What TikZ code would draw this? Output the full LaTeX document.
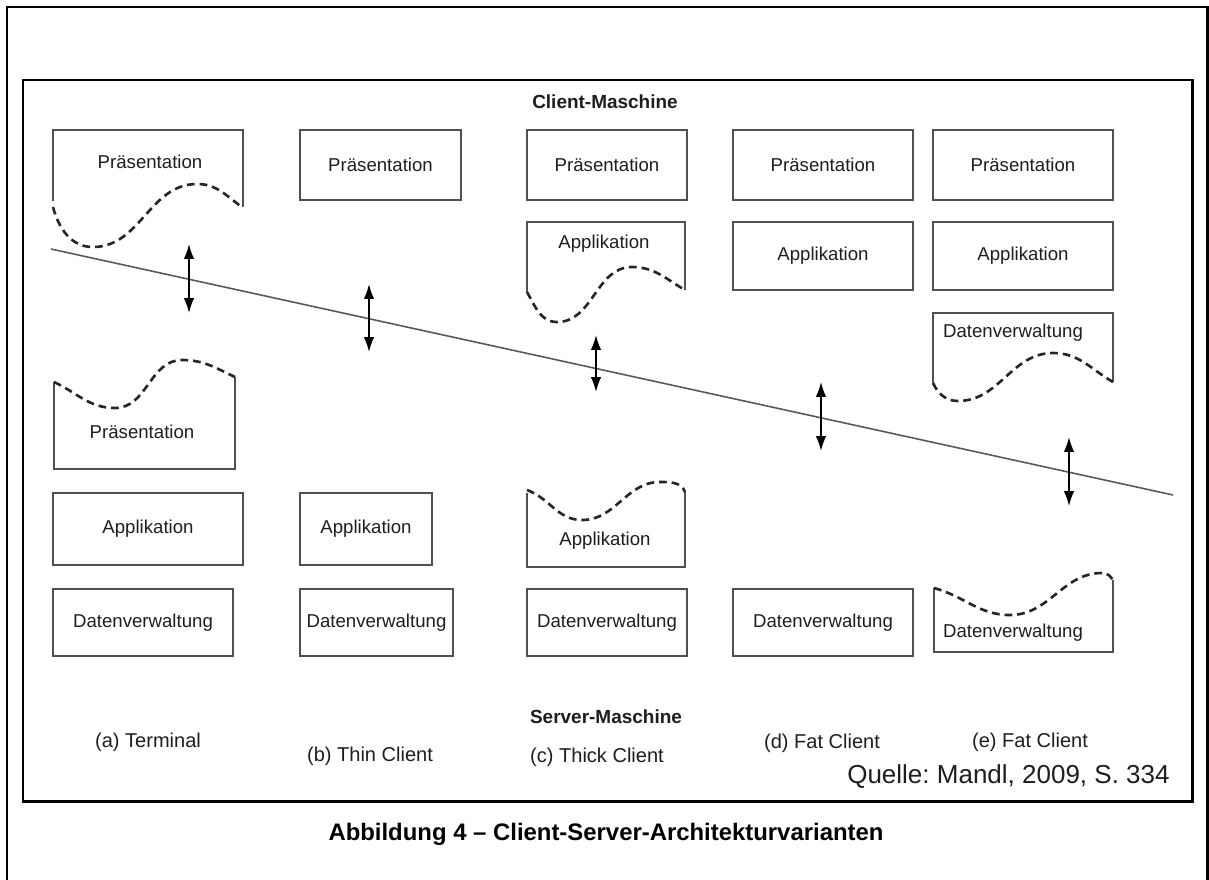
\documentclass[tikz,border=0pt]{standalone}
\usepackage{fontspec}
\setmainfont{Liberation Sans}
\usetikzlibrary{arrows.meta}
\frenchspacing
\definecolor{ink}{HTML}{1E1E1E}
\definecolor{edge}{HTML}{505050}
\tikzset{
  frame/.style={line width=1.7pt, black},
  boxline/.style={line width=0.75pt, edge},
  box/.style={boxline, draw, rectangle, inner sep=0pt, text=ink, font=\fontsize{10.6}{12}\selectfont},
  lbl/.style={text=ink, inner sep=0pt, font=\fontsize{10.6}{12}\selectfont},
  wave/.style={line width=1.5pt, black!85, dash pattern=on 4.4pt off 2.8pt},
  split/.style={line width=0.9pt, black!65},
  link/.style={line width=1pt, black, {Latex[length=8.5pt,width=6pt]}-{Latex[length=8.5pt,width=6pt]}},
  caption/.style={text=ink, inner sep=0pt, font=\fontsize{11.4}{13}\selectfont},
  head/.style={text=ink, inner sep=0pt, font=\bfseries\fontsize{10.8}{13}\selectfont}
}
\begin{document}
\begin{tikzpicture}[x=0.02cm,y=-0.02cm]
\useasboundingbox (0,0) rectangle (1209,879);
\fill[white] (0,0) rectangle (1209,879);
\begin{scope}
\clip (0,0) rectangle (1209,879);
% outer and inner frames
\draw[frame] (7,900) -- (7,7) -- (1207,7) -- (1207,900);
\draw[frame] (23,80) rectangle (1192,801);
\end{scope}

% headings
\node[head] (client) at (605,102) {Client-Maschine};
\node[head] (server) at (606,717) {Server-Maschine};

% ---------- (a) Terminal ----------
\draw[boxline] (53,201) -- (53,130) -- (243,130) -- (243,207);
\draw[wave] (53,207) to[out=-75,in=180] (93,247) to[out=0,in=180] (197,184) to[out=0,in=145] (242,207);
\node[lbl] (aP) at (150,162) {Präsentation};

\draw[boxline] (54,382) -- (54,469) -- (235,469) -- (235,377);
\draw[wave] (54,382) to[out=-25,in=180] (115,408) to[out=0,in=180] (182,360) to[out=0,in=155] (235,377);
\node[lbl] (aPs) at (142,432) {Präsentation};

\node[box, minimum width=190*0.02cm, minimum height=72*0.02cm] (aA) at (148,529) {Applikation};
\node[box, minimum width=180*0.02cm, minimum height=67*0.02cm] (aD) at (143,622.5) {Datenverwaltung};

% ---------- (b) Thin Client ----------
\node[box, minimum width=161*0.02cm, minimum height=70*0.02cm] (bP) at (380.5,165) {Präsentation};
\node[box, minimum width=132*0.02cm, minimum height=72*0.02cm] (bA) at (366,529) {Applikation};
\node[box, minimum width=153*0.02cm, minimum height=67*0.02cm] (bD) at (376.5,622.5) {Datenverwaltung};

% ---------- (c) Thick Client ----------
\node[box, minimum width=160*0.02cm, minimum height=70*0.02cm] (cP) at (607,165) {Präsentation};
\draw[boxline] (527,292) -- (527,222) -- (685,222) -- (685,290);
\draw[wave] (527,292) to[out=-60,in=180] (557,322) to[out=0,in=180] (632,267) to[out=0,in=150] (685,290);
\node[lbl] (cA) at (604,244) {Applikation};

\draw[boxline] (527,493) -- (527,567) -- (685,567) -- (685,492);
\draw[wave] (527,490) to[out=-20,in=180] (582,520) to[out=0,in=180] (660,482) to[out=0,in=110] (685,492);
\node[lbl] (cAs) at (605,541) {Applikation};
\node[box, minimum width=160*0.02cm, minimum height=67*0.02cm] (cD) at (607,622.5) {Datenverwaltung};

% ---------- (d) Fat Client ----------
\node[box, minimum width=180*0.02cm, minimum height=70*0.02cm] (dP) at (823,165) {Präsentation};
\node[box, minimum width=180*0.02cm, minimum height=68*0.02cm] (dA) at (823,256) {Applikation};
\node[box, minimum width=180*0.02cm, minimum height=67*0.02cm] (dD) at (823,622.5) {Datenverwaltung};

% ---------- (e) Fat Client ----------
\node[box, minimum width=180*0.02cm, minimum height=70*0.02cm] (eP) at (1023,165) {Präsentation};
\node[box, minimum width=180*0.02cm, minimum height=68*0.02cm] (eA) at (1023,256) {Applikation};
\draw[boxline] (933,383) -- (933,313) -- (1113,313) -- (1113,382);
\draw[wave] (933,383) to[out=-65,in=180] (958,401) to[out=0,in=180] (1053,353) to[out=0,in=150] (1113,382);
\node[lbl] (eD) at (1013,333) {Datenverwaltung};

\draw[boxline] (934,588) -- (934,652) -- (1113,652) -- (1113,580);
\draw[wave] (934,588) to[out=-15,in=180] (1010,615) to[out=0,in=180] (1102,573) to[out=0,in=100] (1113,582);
\node[lbl] (eDs) at (1013,633) {Datenverwaltung};

% client/server boundary
\coordinate (s0) at (51,249);
\coordinate (s1) at (1173,495);
\draw[split] (s0) -- (s1);

% communication arrows
\coordinate (a1) at (189,244); \coordinate (a2) at (189,313);
\coordinate (b1) at (369,284); \coordinate (b2) at (369,352);
\coordinate (c1) at (596,335); \coordinate (c2) at (596,392);
\coordinate (d1) at (821,382); \coordinate (d2) at (821,451);
\coordinate (e1) at (1069,437); \coordinate (e2) at (1069,506);
\draw[link] (a1) -- (a2);
\draw[link] (b1) -- (b2);
\draw[link] (c1) -- (c2);
\draw[link] (d1) -- (d2);
\draw[link] (e1) -- (e2);

% variant labels
\node[caption] (la) at (148,742) {(a) Terminal};
\node[caption] (lb) at (370,756) {(b) Thin Client};
\node[caption] (lc) at (597,757) {(c) Thick Client};
\node[caption] (ld) at (822,743) {(d) Fat Client};
\node[caption] (le) at (1030,742) {(e) Fat Client};

\node[text=ink, inner sep=0pt, anchor=east, font=\fontsize{14.8}{17}\selectfont] (src) at (1170,777) {Quelle: Mandl, 2009, S. 334};

\node[text=black, inner sep=0pt, font=\bfseries\fontsize{13.6}{16}\selectfont] (title) at (606,834) {Abbildung 4 – Client-Server-Architekturvarianten};
\end{tikzpicture}
\end{document}
